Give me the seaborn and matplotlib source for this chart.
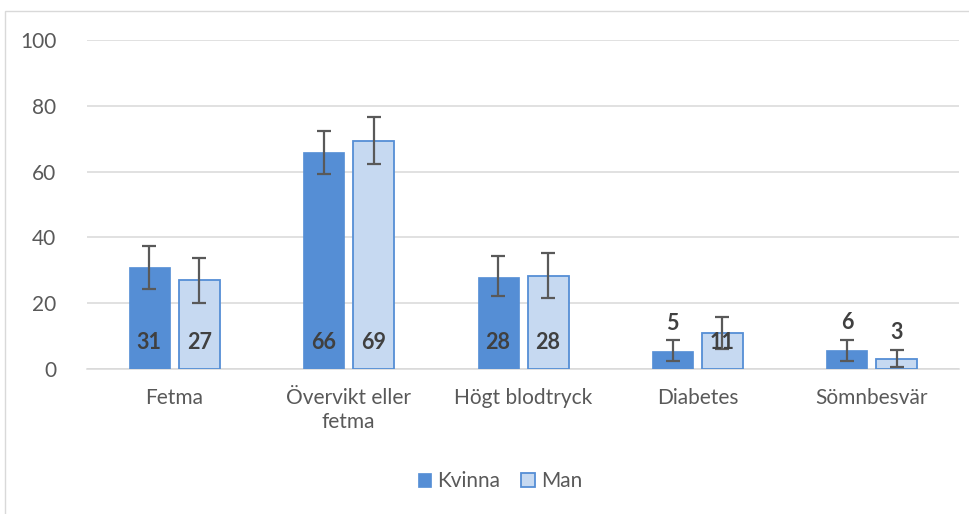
import pandas as pd
import numpy as np
import matplotlib.pyplot as plt
import seaborn as sns
from matplotlib.patches import Rectangle

# --- Data ---
CATEGORIES = ["Fetma", "Övervikt eller\nfetma", "Högt blodtryck", "Diabetes", "Sömnbesvär"]
GROUPS = ["Kvinna", "Man"]
KVINNA = [31, 66, 28, 5.6, 5.8]
MAN = [27, 69.3, 28.3, 11, 3]
KVINNA_LABELS = ["31", "66", "28", "5", "6"]
MAN_LABELS = ["27", "69", "28", "11", "3"]
KVINNA_LO = [24.3, 59.3, 22.3, 2.4, 2.4]
KVINNA_HI = [37.3, 72.5, 34.4, 8.8, 8.8]
MAN_LO = [20.0, 62.3, 21.6, 6.1, 0.6]
MAN_HI = [33.7, 76.6, 35.3, 15.8, 5.8]

BLUE = "#558ED5"
LIGHT = "#C6D9F1"
GREY_TXT = "#595959"
LABEL_TXT = "#404040"

df = pd.DataFrame({
    "cat": CATEGORIES * 2,
    "group": [GROUPS[0]] * 5 + [GROUPS[1]] * 5,
    "value": KVINNA + MAN,
})

sns.set_theme(style="white")
plt.rcParams["font.family"] = ["Lato", "DejaVu Sans"]

fig = plt.figure(figsize=(9.69, 5.14), dpi=100)
ax = fig.add_axes([0.0898, 0.282, 0.9, 0.640])

sns.barplot(data=df, x="cat", y="value", hue="group", order=CATEGORIES,
            hue_order=GROUPS, palette=[BLUE, LIGHT], saturation=1,
            width=0.573, gap=0.18, errorbar=None, ax=ax, zorder=3)

# style the bars: Man bars get a blue outline
n = len(CATEGORIES)
bars = [p for p in ax.patches if p.get_height() > 0][:2 * n]
for i, p in enumerate(bars):
    p.set_edgecolor(BLUE)
    p.set_linewidth(1.3 if i >= n else 0.5)

# error bars and value labels
for k, (vals, lo, hi, labs) in enumerate([(KVINNA, KVINNA_LO, KVINNA_HI, KVINNA_LABELS),
                                          (MAN, MAN_LO, MAN_HI, MAN_LABELS)]):
    group_bars = bars[k * n:(k + 1) * n]
    xs = [p.get_x() + p.get_width() / 2 for p in group_bars]
    v = np.array(vals)
    ax.errorbar(xs, v, yerr=[v - np.array(lo), np.array(hi) - v], fmt="none",
                ecolor=GREY_TXT, elinewidth=1.6, capsize=4.8, capthick=1.6, zorder=4)
    for x, val, lab in zip(xs, vals, labs):
        # label inside base when it fits, otherwise above the bar
        anchor = 0 if val >= 10 else val
        ax.annotate(lab, (x, anchor), xytext=(0, 27), textcoords="offset pixels",
                    ha="center", va="center", fontsize=15.5, fontweight="bold",
                    color=LABEL_TXT, zorder=5)

ax.set_ylim(0, 100)
ax.set_yticks([0, 20, 40, 60, 80, 100])
ax.set_xlim(-0.5, n - 0.5)
ax.grid(axis="y", color="#D9D9D9", linewidth=1.1, zorder=0)
ax.grid(axis="x", visible=False)
for s in ["top", "right", "left"]:
    ax.spines[s].set_visible(False)
ax.spines["bottom"].set_color("#D9D9D9")
ax.spines["bottom"].set_linewidth(1.1)
ax.set_xlabel("")
ax.set_ylabel("")
ax.tick_params(axis="y", length=0, pad=22, labelsize=15, labelcolor=GREY_TXT)
ax.tick_params(axis="x", length=0, pad=14, labelsize=15, labelcolor=GREY_TXT)

ax.legend_.remove()
handles = [Rectangle((0, 0), 1, 1, facecolor=BLUE, edgecolor=BLUE, linewidth=0.5),
           Rectangle((0, 0), 1, 1, facecolor=LIGHT, edgecolor=BLUE, linewidth=1.3)]
leg = fig.legend(handles, GROUPS, loc="center", bbox_to_anchor=(0.516, 1 - 481 / 514),
                 ncol=2, frameon=False, handlelength=0.65, handleheight=0.65,
                 handletextpad=0.3, columnspacing=1.0, fontsize=15)
for t in leg.get_texts():
    t.set_color(GREY_TXT)

# chart frame
fig.patches.append(Rectangle((5 / 969, -0.1), 1.2, 1.1 - 11 / 514,
                             transform=fig.transFigure, fill=False,
                             edgecolor="#D9D9D9", linewidth=1.0))

fig.savefig("out.png", dpi=100)
